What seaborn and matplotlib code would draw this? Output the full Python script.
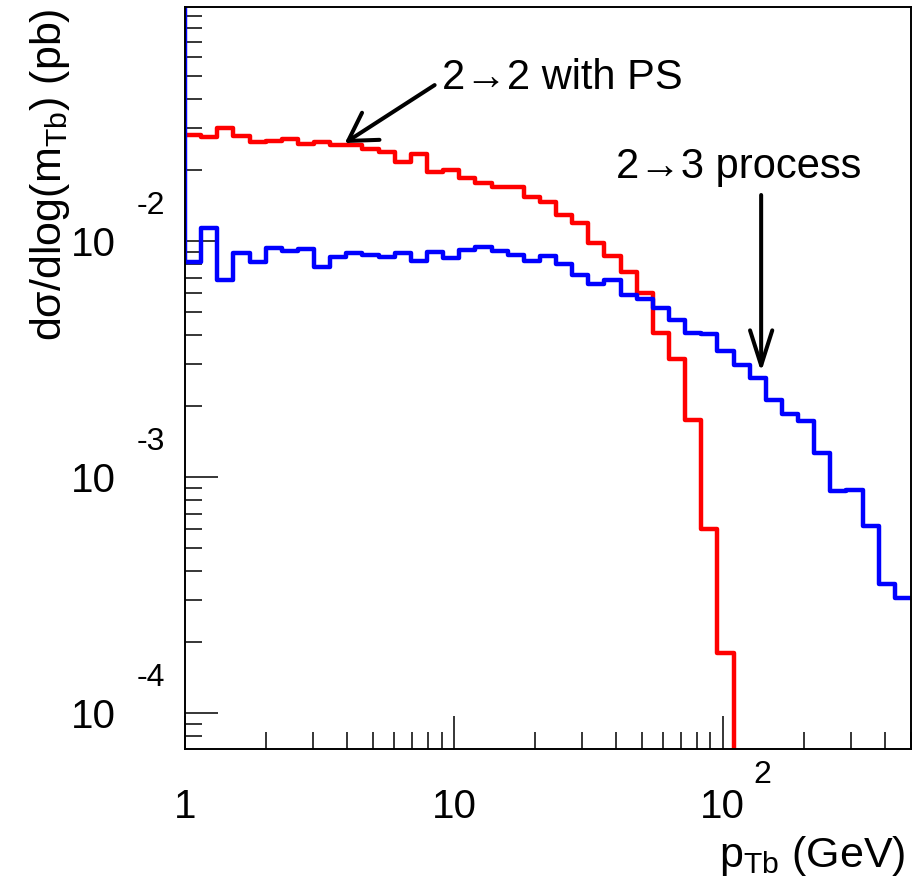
import numpy as np
import pandas as pd
import matplotlib
matplotlib.use("Agg")
import matplotlib.pyplot as plt
import seaborn as sns
from matplotlib.ticker import FixedLocator, FixedFormatter, LogLocator, NullFormatter

# ---- binning: 45 log-uniform bins, width 0.06 in log10(pT), from 1 GeV ----
log_bin_width = 0.06
n_bins = 45
log_edges = np.linspace(0.0, log_bin_width * n_bins, n_bins + 1)
bin_edges = 10 ** log_edges

# ---- histogram contents (pb) ----
red_2to2_ps = [
    0.02813, 0.02772, 0.03021, 0.02786, 0.02622, 0.02661, 0.02700, 0.02589, 0.02620, 0.02551,
    0.02545, 0.02466, 0.02376, 0.02158, 0.02342, 0.01961, 0.02005, 0.01844, 0.01762, 0.01694,
    0.01690, 0.01536, 0.01463, 0.01289, 0.01192, 0.009855, 0.008681, 0.007412, 0.006004, 0.004095,
    0.003172, 0.001744, 0.0006039, 0.0001791, 0.0, 0.0, 0.0, 0.0, 0.0, 0.0,
    0.0, 0.0, 0.0, 0.0, 0.0,
]
blue_2to3 = [
    0.008124, 0.01139, 0.006834, 0.008869, 0.008172, 0.009367, 0.009072, 0.009222, 0.007784, 0.008580,
    0.008869, 0.008724, 0.008580, 0.008922, 0.008228, 0.009010, 0.008472, 0.009205, 0.009459, 0.009072,
    0.008706, 0.008268, 0.008681, 0.007991, 0.007211, 0.006588, 0.006815, 0.005934, 0.005690, 0.005185,
    0.004639, 0.004095, 0.004044, 0.003412, 0.002990, 0.002634, 0.002130, 0.001844, 0.001722, 0.001264,
    0.0008697, 0.0008837, 0.0006212, 0.0003521, 0.0003062,
]

# ---- axes / tick labels ----
x_major = [1, 10, 100]
x_labels = ["1", "10", "10"]
x_exponents = ["", "", "2"]
y_major = [1e-4, 1e-3, 1e-2]
y_labels = ["10", "10", "10"]
y_exponents = ["-4", "-3", "-2"]
y_limits = (7.04e-5, 0.0984)

x_title = r"p$_{\mathrm{Tb}}$ (GeV)"
y_title = r"dσ/dlog(m$_{\mathrm{Tb}}$) (pb)"
label_22 = "2→2 with PS"
label_23 = "2→3 process"

RED = "#ff0000"
BLUE = "#0000ff"


def step_frame(values):
    # histogram outline: value of each bin held from its low edge to the next edge
    return pd.DataFrame({"edge": bin_edges, "value": list(values) + [values[-1]]})


sns.set_style("white")
plt.rcParams["font.family"] = ["Liberation Sans", "DejaVu Sans"]
plt.rcParams["mathtext.fontset"] = "custom"
plt.rcParams["mathtext.rm"] = "Liberation Sans"
plt.rcParams["mathtext.it"] = "Liberation Sans:italic"
plt.rcParams["mathtext.bf"] = "Liberation Sans:bold"
for key in ["text.color", "axes.labelcolor", "xtick.color", "ytick.color", "axes.edgecolor"]:
    plt.rcParams[key] = "black"

W, H = 913, 877
fig = plt.figure(figsize=(W / 100, H / 100), dpi=100)
ax = fig.add_axes([185 / W, 1 - 749 / H, 726 / W, 742.3 / H])

sns.lineplot(data=step_frame(red_2to2_ps), x="edge", y="value", drawstyle="steps-post",
             estimator=None, sort=False, color=RED, linewidth=3.2, ax=ax)
sns.lineplot(data=step_frame(blue_2to3), x="edge", y="value", drawstyle="steps-post",
             estimator=None, sort=False, color=BLUE, linewidth=3.2, ax=ax)

ax.set_xscale("log")
ax.set_yscale("log", nonpositive="clip")
ax.set_xlim(bin_edges[0], bin_edges[-1])
ax.set_ylim(*y_limits)

# blue histogram's left edge line (runs up to the frame)
ax.plot([bin_edges[0], bin_edges[0]], [blue_2to3[0], y_limits[1]], color=BLUE,
        lw=3.2, solid_capstyle="butt")

# ticks
ax.xaxis.set_major_locator(FixedLocator(x_major))
ax.xaxis.set_major_formatter(FixedFormatter(x_labels))
ax.xaxis.set_minor_locator(LogLocator(base=10, subs=np.arange(2, 10), numticks=20))
ax.xaxis.set_minor_formatter(NullFormatter())
ax.yaxis.set_major_locator(FixedLocator(y_major))
ax.yaxis.set_major_formatter(FixedFormatter(y_labels))
ax.yaxis.set_minor_locator(LogLocator(base=10, subs=np.arange(2, 10), numticks=20))
ax.yaxis.set_minor_formatter(NullFormatter())

ax.tick_params(which="both", direction="in", left=True, bottom=True, top=False, right=False,
               width=1.1, color="black", labelcolor="black")
ax.tick_params(which="major", length=24)
ax.tick_params(which="minor", length=12)
ax.tick_params(axis="x", which="major", labelsize=29, pad=28)
ax.tick_params(axis="y", which="major", labelsize=29, pad=50)

for val, e in zip(x_major, x_exponents):
    if e:
        ax.annotate(e, xy=(val, 0), xycoords=("data", "axes fraction"), xytext=(22, -19),
                    textcoords="offset points", ha="left", va="center", fontsize=23)
for val, e in zip(y_major, y_exponents):
    ax.annotate(e, xy=(0, val), xycoords=("axes fraction", "data"), xytext=(-35, 25),
                textcoords="offset points", ha="left", va="center", fontsize=23)

for s in ax.spines.values():
    s.set_visible(True)
    s.set_color("black")
    s.set_linewidth(1.4)

ax.set_xlabel(x_title, fontsize=31, loc="right")
ax.xaxis.set_label_coords(0.992, -0.115)
ax.set_ylabel(y_title, fontsize=31, loc="top")
ax.yaxis.set_label_coords(-0.156, 0.998)

# annotations
ax.annotate("", xy=(3.93, 0.02602), xytext=(8.48, 0.0458),
            arrowprops=dict(arrowstyle="->,head_length=0.97,head_width=0.58", lw=2.9,
                            color="black", shrinkA=0, shrinkB=0, mutation_scale=20))
ax.text(9.0, 0.0441, label_22, fontsize=30, ha="left", va="baseline")
ax.annotate("", xy=(138.9, 0.002786), xytext=(138.9, 0.01567),
            arrowprops=dict(arrowstyle="->,head_length=1.26,head_width=0.4", lw=2.9,
                            color="black", shrinkA=0, shrinkB=0, mutation_scale=20))
ax.text(40.2, 0.01849, label_23, fontsize=30, ha="left", va="baseline")

fig.savefig("out.png", dpi=100)
